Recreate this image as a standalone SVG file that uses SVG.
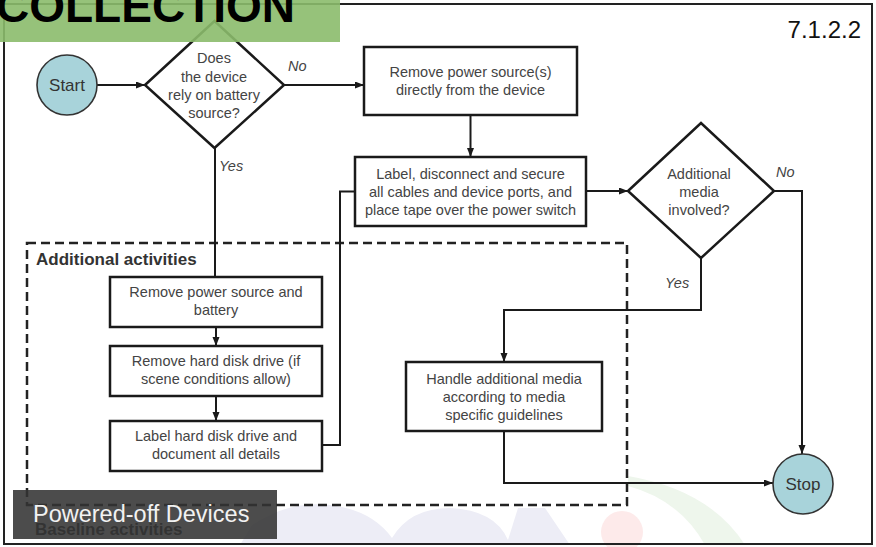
<svg xmlns="http://www.w3.org/2000/svg" width="876" height="547" viewBox="0 0 876 547">
  <defs>
    <marker id="arrow" markerUnits="userSpaceOnUse" markerWidth="10" markerHeight="8" refX="9" refY="3.5" orient="auto">
      <path d="M0,0 L9,3.5 L0,7 z" fill="#1a1a1a"/>
    </marker>
    <style>
      .txt { font-family: "Liberation Sans", Arial, sans-serif; font-size: 14.5px; fill: #444; text-anchor: middle; }
      .lbl { font-family: "Liberation Sans", Arial, sans-serif; font-size: 14.5px; fill: #444; font-style: italic; }
      .head { font-family: "Liberation Sans", Arial, sans-serif; font-size: 17px; font-weight: bold; fill: #333; }
      .box { fill: #fff; stroke: #1a1a1a; stroke-width: 2.5; }
      .term { fill: #a8d3da; stroke: #333; stroke-width: 1.6; }
      .conn { fill: none; stroke: #1a1a1a; stroke-width: 2; }
      .arr { marker-end: url(#arrow); }
    </style>
  </defs>

  <rect x="0" y="0" width="876" height="547" fill="#fff"/>

  <!-- faint logo in the lower background -->
  <g id="watermark">
    <path d="M240,545 L252,525 Q290,500 330,505 Q372,510 392,538 Q410,508 450,508 Q495,510 508,540 L518,508 L545,508 L570,545 Z" fill="#ededf6"/>
    <circle cx="622" cy="532" r="21" fill="#fdeaea"/>
    <path d="M628,476 Q710,490 745,545 L705,545 Q680,500 628,486 Z" fill="#eef6ec"/>
  </g>

  <!-- outer frame -->
  <rect x="4" y="4" width="868" height="540" fill="none" stroke="#222" stroke-width="2"/>

  <!-- dashed group of extra steps -->
  <g id="additional-activities">
    <rect x="27" y="243" width="600" height="262" fill="none" stroke="#222" stroke-width="2.5" stroke-dasharray="9 5"/>
    <text class="head" x="36" y="265">Additional activities</text>
  </g>

  <g id="baseline-label">
    <text class="head" x="35" y="535">Baseline activities</text>
  </g>

  <!-- connectors -->
  <g id="connectors">
    <line class="conn arr" x1="97" y1="85" x2="145" y2="85"/>
    <line class="conn arr" x1="284" y1="85" x2="364" y2="85"/>
    <line class="conn arr" x1="470.5" y1="115" x2="470.5" y2="157"/>
    <line class="conn arr" x1="586" y1="191" x2="628" y2="191"/>
    <polyline class="conn arr" points="774,191 802,191 802,454"/>
    <polyline class="conn arr" points="701,258 701,310 504,310 504,362"/>
    <polyline class="conn arr" points="504,431 504,483 773,483"/>
    <line class="conn" x1="215" y1="148" x2="215" y2="277"/>
    <line class="conn arr" x1="216" y1="327" x2="216" y2="346"/>
    <line class="conn arr" x1="216" y1="396" x2="216" y2="421"/>
    <polyline class="conn" points="323,445 340,445 340,191.5 355,191.5"/>
    <text class="lbl" x="288" y="71">No</text>
    <text class="lbl" x="219" y="171">Yes</text>
    <text class="lbl" x="776" y="177">No</text>
    <text class="lbl" x="665" y="288">Yes</text>
  </g>

  <g id="start">
    <circle class="term" cx="67" cy="85" r="30"/>
    <text class="txt" x="67" y="91" style="font-size:17px;fill:#333">Start</text>
  </g>

  <g id="battery-decision">
    <polygon class="box" points="145,85 214.5,21 284,85 214.5,148"/>
    <text class="txt" x="214" y="63">Does</text>
    <text class="txt" x="214" y="82">the device</text>
    <text class="txt" x="214" y="100">rely on battery</text>
    <text class="txt" x="214" y="118">source?</text>
  </g>

  <g id="remove-power">
    <rect class="box" x="364" y="47" width="213" height="68"/>
    <text class="txt" x="470.5" y="77">Remove power source(s)</text>
    <text class="txt" x="470.5" y="95">directly from the device</text>
  </g>

  <g id="label-cables">
    <rect class="box" x="355" y="157" width="231" height="69"/>
    <text class="txt" x="470.5" y="179">Label, disconnect and secure</text>
    <text class="txt" x="470.5" y="197">all cables and device ports, and</text>
    <text class="txt" x="470.5" y="215">place tape over the power switch</text>
  </g>

  <g id="media-decision">
    <polygon class="box" points="628,191 701,123 774,191 701,258"/>
    <text class="txt" x="699" y="179">Additional</text>
    <text class="txt" x="699" y="197">media</text>
    <text class="txt" x="699" y="215">involved?</text>
  </g>

  <g id="remove-battery">
    <rect class="box" x="110" y="277" width="212" height="50"/>
    <text class="txt" x="216" y="297">Remove power source and</text>
    <text class="txt" x="216" y="315">battery</text>
  </g>

  <g id="remove-disk">
    <rect class="box" x="110" y="346" width="212" height="50"/>
    <text class="txt" x="216" y="366">Remove hard disk drive (if</text>
    <text class="txt" x="216" y="384">scene conditions allow)</text>
  </g>

  <g id="label-disk">
    <rect class="box" x="110" y="421" width="212" height="50"/>
    <text class="txt" x="216" y="441">Label hard disk drive and</text>
    <text class="txt" x="216" y="459">document all details</text>
  </g>

  <g id="handle-media">
    <rect class="box" x="406" y="362" width="196" height="69"/>
    <text class="txt" x="504" y="384">Handle additional media</text>
    <text class="txt" x="504" y="402">according to media</text>
    <text class="txt" x="504" y="420">specific guidelines</text>
  </g>

  <g id="stop">
    <circle class="term" cx="803" cy="484" r="30"/>
    <text class="txt" x="803" y="490" style="font-size:17px;fill:#333">Stop</text>
  </g>

  <!-- section number -->
  <text x="861" y="38" text-anchor="end" style="font-family:'Liberation Sans', Arial, sans-serif;font-size:24px;fill:#111">7.1.2.2</text>

  <!-- slide title banner -->
  <g id="title-banner">
    <rect x="0" y="0" width="340" height="42" fill="#8bbb6c" fill-opacity="0.9"/>
    <text x="-4" y="22" style="font-family:'Liberation Sans', Arial, sans-serif;font-size:46px;font-weight:bold;fill:#000">COLLECTION</text>
  </g>

  <!-- caption overlay -->
  <g id="caption">
    <rect x="13" y="490" width="264" height="49" fill="#333" fill-opacity="0.88"/>
    <text x="33" y="522" style="font-family:'Liberation Sans', Arial, sans-serif;font-size:23.5px;fill:#f2f2f2">Powered-off Devices</text>
  </g>
</svg>
